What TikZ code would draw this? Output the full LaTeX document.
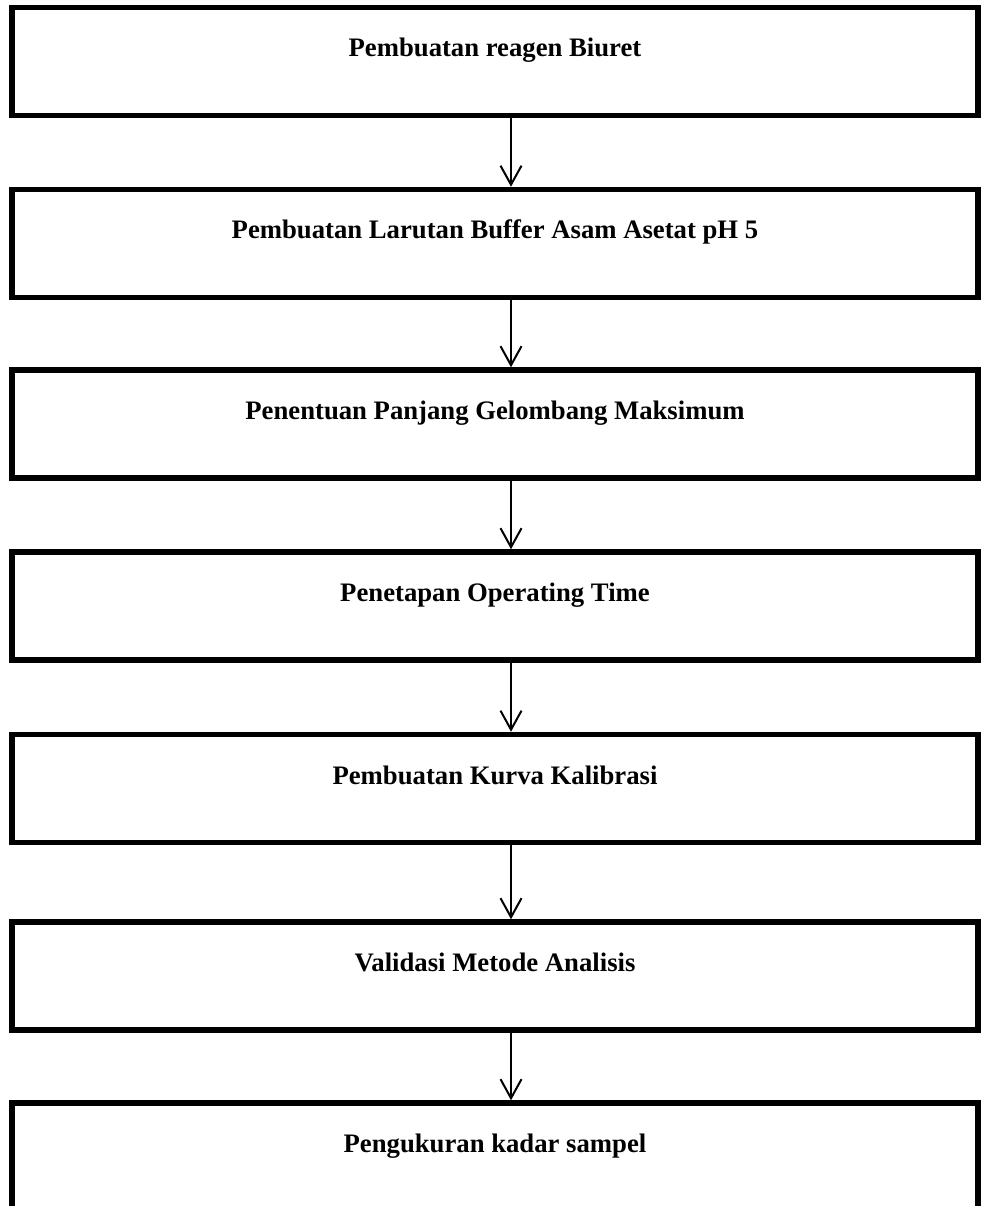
\documentclass[tikz,border=0pt]{standalone}
\usepackage{fontspec}
\setmainfont{Liberation Serif}
\usetikzlibrary{arrows.meta}
\begin{document}
\begin{tikzpicture}[x=1pt,y=-1pt,
  stepbox/.style={draw=black, line width=5.5pt, rectangle, inner sep=0pt,
    minimum width=966pt, text height=49.5pt, text depth=58.5pt,
    font=\fontsize{26.7}{30}\selectfont\bfseries},
  lastbox/.style={stepbox, text depth=72pt},
  arr/.style={line width=2pt, -{Straight Barb[length=19pt,width=21pt]}}]
\clip (0,0) rectangle (981,1206);
\fill[white] (0,0) rectangle (981,1206);
\coordinate (ax) at (511,0);
\node[stepbox] (b1) at (495,61.5) {Pembuatan reagen Biuret};
\node[stepbox] (b2) at (495,243.5) {Pembuatan Larutan Buffer Asam Asetat pH 5};
\node[stepbox] (b3) at (495,424) {Penentuan Panjang Gelombang Maksimum};
\node[stepbox] (b4) at (495,606) {Penetapan Operating Time};
\node[stepbox] (b5) at (495,788.5) {Pembuatan Kurva Kalibrasi};
\node[stepbox] (b6) at (495,976) {Validasi Metode Analisis};
\node[lastbox, anchor=north] (b7) at (495,1100.25) {Pengukuran kadar sampel};
\draw[arr] (b1.south -| ax) -- (b2.north -| ax);
\draw[arr] (b2.south -| ax) -- (b3.north -| ax);
\draw[arr] (b3.south -| ax) -- (b4.north -| ax);
\draw[arr] (b4.south -| ax) -- (b5.north -| ax);
\draw[arr] (b5.south -| ax) -- (b6.north -| ax);
\draw[arr] (b6.south -| ax) -- (b7.north -| ax);
\end{tikzpicture}
\end{document}
